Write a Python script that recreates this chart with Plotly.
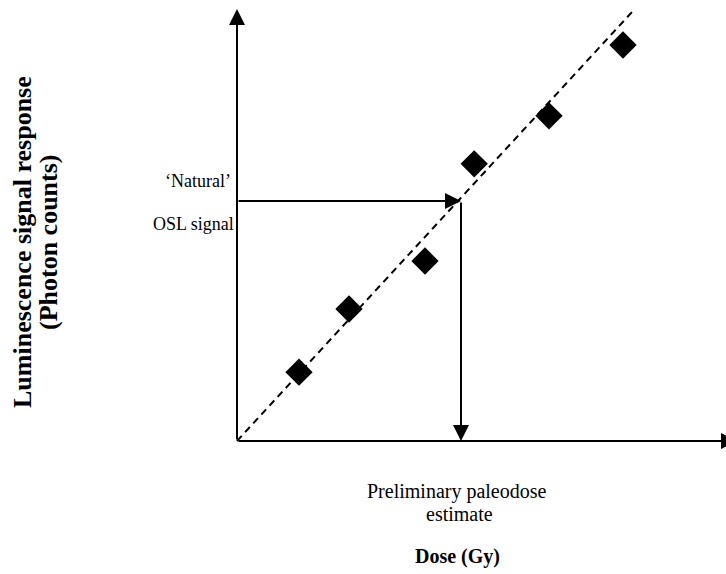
import plotly.graph_objects as go

# Regenerative-dose points (dose, luminescence response), arbitrary units
dose = [1.55, 2.8, 4.7, 5.93, 7.8, 9.65]
signal = [1.72, 3.3, 4.5, 6.93, 8.13, 9.9]

# Linear dose-response fit through the origin
fit_dose = [0.0, 9.9]
fit_slope = 1.086
fit_signal = [fit_slope * d for d in fit_dose]

# Natural OSL signal and the paleodose it reads off the fit
natural_signal = 6.0
paleodose = 5.6

# Axis arrow extents
x_axis_end = 12.5
y_axis_end = 10.8

W, H = 726, 574
FONT = "Liberation Serif, Times New Roman, serif"

fig = go.Figure()

fig.add_trace(go.Scatter(
    x=fit_dose, y=fit_signal, mode="lines",
    line=dict(color="black", width=2, dash="7px,5px"),
    hoverinfo="skip", showlegend=False,
))
fig.add_trace(go.Scatter(
    x=dose, y=signal, mode="markers",
    marker=dict(symbol="diamond", size=21, color="black"),
    showlegend=False,
))


def arrow(x0, y0, x1, y1):
    fig.add_annotation(
        x=x1, y=y1, ax=x0, ay=y0, xref="x", yref="y", axref="x", ayref="y",
        showarrow=True, arrowhead=2, arrowsize=1.6, arrowwidth=2,
        arrowcolor="black", text="", standoff=0, startstandoff=0,
    )


# Axes drawn as arrows
arrow(0, 0, 0, y_axis_end)
arrow(0, 0, x_axis_end, 0)
# Natural signal projected onto the fit, then down to the dose axis
arrow(0, natural_signal, paleodose, natural_signal)
arrow(paleodose, natural_signal, paleodose, 0)


def label(px, py, text, size=18, bold=False, angle=0):
    if bold:
        text = "<b>" + text + "</b>"
    fig.add_annotation(
        x=px / W, y=1 - py / H, xref="paper", yref="paper",
        text=text, showarrow=False, textangle=angle,
        font=dict(family=FONT, size=size, color="black"),
        xanchor="center", yanchor="middle",
    )


label(198, 181, "\u2018Natural\u2019")
label(193, 224, "OSL signal")
label(457, 491, "Preliminary paleodose", size=20)
label(459, 514, "estimate", size=20)
label(457, 556, "Dose (Gy)", size=20, bold=True)
label(22, 242, "Luminescence signal response", size=26, bold=True, angle=-90)
label(48, 242, "(Photon counts)", size=26, bold=True, angle=-90)

px_per_unit = 40.0
x0_px, y0_px = 237, 441
fig.update_layout(
    width=W, height=H,
    margin=dict(l=0, r=0, t=0, b=0),
    paper_bgcolor="white", plot_bgcolor="white",
    xaxis=dict(visible=False, range=[-x0_px / px_per_unit, (W - x0_px) / px_per_unit]),
    yaxis=dict(visible=False, range=[-(H - y0_px) / px_per_unit, y0_px / px_per_unit]),
)

fig.write_html("out.html")
